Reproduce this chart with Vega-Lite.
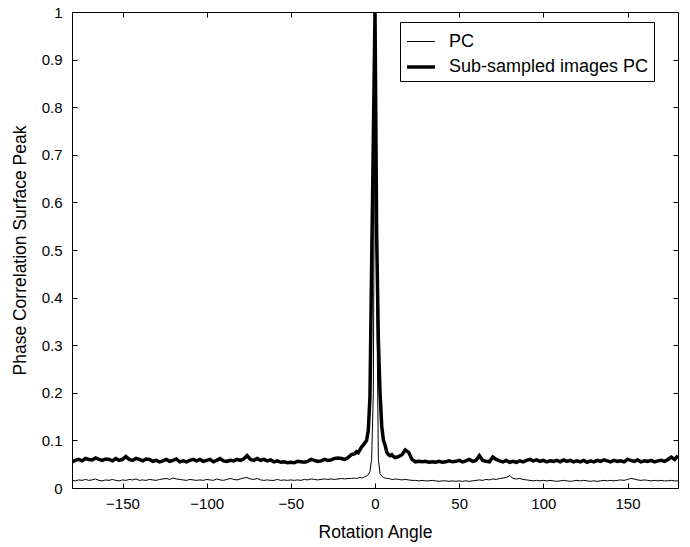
{
  "$schema": "https://vega.github.io/schema/vega-lite/v6.json",
  "width": 606,
  "height": 476,
  "autosize": {"type": "none"},
  "padding": {"left": 72, "top": 12, "right": 12, "bottom": 59},
  "background": "white",
  "config": {
    "view": {"stroke": "black", "strokeWidth": 1},
    "font": "Liberation Sans",
    "axis": {
      "labelFont": "Liberation Sans", "labelFontSize": 15, "labelColor": "black",
      "titleFont": "Liberation Sans", "titleFontSize": 17.5, "titleColor": "black", "titleFontWeight": "normal",
      "domain": false, "grid": false, "ticks": true, "tickColor": "black", "tickWidth": 1, "tickSize": 5, "offset": -5
    },
    "legend": {"labelFont": "Liberation Sans", "labelFontSize": 18, "labelColor": "black", "labelLimit": 400}
  },
  "data": {"values": [
    {"a":-180,"p":0.016,"s":0.055},{"a":-178,"p":0.015,"s":0.058},{"a":-176,"p":0.017,"s":0.060},{"a":-174,"p":0.016,"s":0.057},{"a":-172,"p":0.018,"s":0.062},{"a":-170,"p":0.016,"s":0.060},{"a":-168,"p":0.017,"s":0.059},{"a":-166,"p":0.019,"s":0.063},{"a":-164,"p":0.016,"s":0.060},{"a":-162,"p":0.015,"s":0.058},
    {"a":-160,"p":0.017,"s":0.061},{"a":-158,"p":0.016,"s":0.060},{"a":-156,"p":0.018,"s":0.057},{"a":-154,"p":0.016,"s":0.062},{"a":-152,"p":0.015,"s":0.058},{"a":-150,"p":0.017,"s":0.060},{"a":-148,"p":0.016,"s":0.066},{"a":-146,"p":0.018,"s":0.060},{"a":-144,"p":0.017,"s":0.058},{"a":-142,"p":0.019,"s":0.062},
    {"a":-140,"p":0.016,"s":0.060},{"a":-138,"p":0.017,"s":0.057},{"a":-136,"p":0.016,"s":0.061},{"a":-134,"p":0.018,"s":0.060},{"a":-132,"p":0.017,"s":0.056},{"a":-130,"p":0.016,"s":0.058},{"a":-128,"p":0.018,"s":0.055},{"a":-126,"p":0.019,"s":0.057},{"a":-124,"p":0.020,"s":0.060},{"a":-122,"p":0.018,"s":0.056},
    {"a":-120,"p":0.021,"s":0.058},{"a":-118,"p":0.019,"s":0.061},{"a":-116,"p":0.018,"s":0.055},{"a":-114,"p":0.017,"s":0.057},{"a":-112,"p":0.016,"s":0.055},{"a":-110,"p":0.018,"s":0.058},{"a":-108,"p":0.017,"s":0.060},{"a":-106,"p":0.016,"s":0.057},{"a":-104,"p":0.017,"s":0.060},{"a":-102,"p":0.016,"s":0.056},
    {"a":-100,"p":0.018,"s":0.058},{"a":-98,"p":0.017,"s":0.060},{"a":-96,"p":0.016,"s":0.055},{"a":-94,"p":0.019,"s":0.058},{"a":-92,"p":0.017,"s":0.062},{"a":-90,"p":0.016,"s":0.057},{"a":-88,"p":0.018,"s":0.056},{"a":-86,"p":0.020,"s":0.058},{"a":-84,"p":0.018,"s":0.057},{"a":-82,"p":0.017,"s":0.060},
    {"a":-80,"p":0.019,"s":0.058},{"a":-78,"p":0.021,"s":0.061},{"a":-76,"p":0.022,"s":0.068},{"a":-74,"p":0.019,"s":0.060},{"a":-72,"p":0.018,"s":0.058},{"a":-70,"p":0.020,"s":0.062},{"a":-68,"p":0.017,"s":0.058},{"a":-66,"p":0.016,"s":0.060},{"a":-64,"p":0.017,"s":0.057},{"a":-62,"p":0.016,"s":0.059},
    {"a":-60,"p":0.016,"s":0.055},{"a":-58,"p":0.018,"s":0.057},{"a":-56,"p":0.016,"s":0.054},{"a":-54,"p":0.017,"s":0.055},{"a":-52,"p":0.016,"s":0.053},{"a":-50,"p":0.017,"s":0.054},{"a":-48,"p":0.016,"s":0.053},{"a":-46,"p":0.017,"s":0.056},{"a":-44,"p":0.016,"s":0.055},{"a":-42,"p":0.018,"s":0.054},
    {"a":-40,"p":0.017,"s":0.056},{"a":-38,"p":0.019,"s":0.060},{"a":-36,"p":0.018,"s":0.058},{"a":-34,"p":0.017,"s":0.056},{"a":-32,"p":0.018,"s":0.057},{"a":-30,"p":0.019,"s":0.060},{"a":-28,"p":0.018,"s":0.058},{"a":-26,"p":0.019,"s":0.059},{"a":-24,"p":0.018,"s":0.062},{"a":-22,"p":0.019,"s":0.063},
    {"a":-20,"p":0.020,"s":0.062},{"a":-18,"p":0.019,"s":0.060},{"a":-16,"p":0.020,"s":0.064},{"a":-14,"p":0.020,"s":0.070},{"a":-12,"p":0.021,"s":0.072},{"a":-11,"p":0.020,"s":0.076},{"a":-10,"p":0.021,"s":0.074},{"a":-9,"p":0.022,"s":0.080},{"a":-8,"p":0.021,"s":0.086},{"a":-7,"p":0.022,"s":0.090},
    {"a":-6,"p":0.024,"s":0.095},{"a":-5,"p":0.025,"s":0.100},{"a":-4,"p":0.028,"s":0.120},{"a":-3,"p":0.035,"s":0.190},{"a":-2,"p":0.060,"s":0.470},{"a":-1,"p":0.200,"s":0.730},{"a":0,"p":1.0,"s":1.0},{"a":1,"p":0.420,"s":0.530},{"a":2,"p":0.060,"s":0.310},{"a":3,"p":0.030,"s":0.200},
    {"a":4,"p":0.025,"s":0.130},{"a":5,"p":0.022,"s":0.100},{"a":6,"p":0.021,"s":0.090},{"a":7,"p":0.020,"s":0.075},{"a":8,"p":0.020,"s":0.070},{"a":9,"p":0.019,"s":0.068},{"a":10,"p":0.018,"s":0.070},{"a":11,"p":0.018,"s":0.066},{"a":12,"p":0.019,"s":0.064},{"a":14,"p":0.018,"s":0.066},
    {"a":16,"p":0.017,"s":0.070},{"a":18,"p":0.018,"s":0.080},{"a":20,"p":0.017,"s":0.075},{"a":22,"p":0.016,"s":0.060},{"a":24,"p":0.016,"s":0.055},{"a":26,"p":0.015,"s":0.056},{"a":28,"p":0.016,"s":0.055},{"a":30,"p":0.015,"s":0.056},{"a":32,"p":0.015,"s":0.054},{"a":34,"p":0.016,"s":0.055},
    {"a":36,"p":0.015,"s":0.054},{"a":38,"p":0.014,"s":0.056},{"a":40,"p":0.015,"s":0.054},{"a":42,"p":0.015,"s":0.055},{"a":44,"p":0.014,"s":0.057},{"a":46,"p":0.015,"s":0.055},{"a":48,"p":0.014,"s":0.056},{"a":50,"p":0.015,"s":0.058},{"a":52,"p":0.014,"s":0.055},{"a":54,"p":0.015,"s":0.057},
    {"a":56,"p":0.014,"s":0.060},{"a":58,"p":0.015,"s":0.056},{"a":60,"p":0.016,"s":0.058},{"a":62,"p":0.017,"s":0.068},{"a":64,"p":0.016,"s":0.058},{"a":66,"p":0.018,"s":0.056},{"a":68,"p":0.017,"s":0.055},{"a":70,"p":0.019,"s":0.065},{"a":72,"p":0.018,"s":0.060},{"a":74,"p":0.020,"s":0.057},
    {"a":76,"p":0.021,"s":0.055},{"a":78,"p":0.022,"s":0.058},{"a":80,"p":0.026,"s":0.054},{"a":82,"p":0.020,"s":0.056},{"a":84,"p":0.019,"s":0.054},{"a":86,"p":0.020,"s":0.057},{"a":88,"p":0.018,"s":0.055},{"a":90,"p":0.017,"s":0.058},{"a":92,"p":0.016,"s":0.060},{"a":94,"p":0.015,"s":0.057},
    {"a":96,"p":0.016,"s":0.059},{"a":98,"p":0.015,"s":0.056},{"a":100,"p":0.016,"s":0.058},{"a":102,"p":0.015,"s":0.055},{"a":104,"p":0.016,"s":0.057},{"a":106,"p":0.015,"s":0.056},{"a":108,"p":0.014,"s":0.058},{"a":110,"p":0.015,"s":0.055},{"a":112,"p":0.016,"s":0.059},{"a":114,"p":0.015,"s":0.056},
    {"a":116,"p":0.014,"s":0.058},{"a":118,"p":0.015,"s":0.055},{"a":120,"p":0.016,"s":0.057},{"a":122,"p":0.015,"s":0.055},{"a":124,"p":0.016,"s":0.058},{"a":126,"p":0.015,"s":0.054},{"a":128,"p":0.014,"s":0.057},{"a":130,"p":0.015,"s":0.055},{"a":132,"p":0.014,"s":0.058},{"a":134,"p":0.015,"s":0.056},
    {"a":136,"p":0.016,"s":0.059},{"a":138,"p":0.015,"s":0.057},{"a":140,"p":0.016,"s":0.055},{"a":142,"p":0.015,"s":0.058},{"a":144,"p":0.016,"s":0.056},{"a":146,"p":0.017,"s":0.057},{"a":148,"p":0.016,"s":0.055},{"a":150,"p":0.018,"s":0.060},{"a":152,"p":0.020,"s":0.058},{"a":154,"p":0.019,"s":0.056},
    {"a":156,"p":0.017,"s":0.059},{"a":158,"p":0.016,"s":0.055},{"a":160,"p":0.017,"s":0.057},{"a":162,"p":0.016,"s":0.056},{"a":164,"p":0.015,"s":0.058},{"a":166,"p":0.016,"s":0.055},{"a":168,"p":0.015,"s":0.057},{"a":170,"p":0.016,"s":0.058},{"a":172,"p":0.015,"s":0.056},{"a":174,"p":0.015,"s":0.060},
    {"a":176,"p":0.016,"s":0.065},{"a":178,"p":0.015,"s":0.060},{"a":180,"p":0.015,"s":0.068}
  ]},
  "transform": [{"fold": ["p", "s"], "as": ["series", "v"]}],
  "layer": [
    {
      "mark": {"type": "line", "color": "black", "clip": true},
      "encoding": {
        "x": {"field": "a", "type": "quantitative", "scale": {"domain": [-180, 180], "nice": false},
              "axis": {"values": [-150, -100, -50, 0, 50, 100, 150], "title": "Rotation Angle", "labelPadding": 8, "titlePadding": 12}},
        "y": {"field": "v", "type": "quantitative", "scale": {"domain": [0, 1], "nice": false},
              "axis": {"values": [0, 0.1, 0.2, 0.3, 0.4, 0.5, 0.6, 0.7, 0.8, 0.9, 1], "format": "~g", "title": "Phase Correlation Surface Peak", "labelPadding": 10, "titlePadding": 12}},
        "strokeWidth": {"field": "series", "type": "nominal",
          "scale": {"domain": ["p", "s"], "range": [1, 3.5]},
          "legend": {"title": null, "orient": "none", "legendX": 328, "legendY": 10,
            "labelExpr": "datum.value == 'p' ? 'PC' : 'Sub-sampled images PC'",
            "strokeColor": "black", "fillColor": "white", "padding": 5,
            "symbolType": "stroke", "symbolSize": 784, "symbolStrokeColor": "black", "labelOffset": 12, "rowPadding": -6}}
      }
    },
    {
      "mark": {"type": "line", "opacity": 0},
      "encoding": {
        "x": {"field": "a", "type": "quantitative", "scale": {"domain": [-180, 180], "nice": false},
              "axis": {"orient": "top", "values": [-150, -100, -50, 0, 50, 100, 150], "labels": false, "title": null}},
        "y": {"field": "v", "type": "quantitative", "scale": {"domain": [0, 1], "nice": false},
              "axis": {"orient": "right", "values": [0, 0.1, 0.2, 0.3, 0.4, 0.5, 0.6, 0.7, 0.8, 0.9, 1], "labels": false, "title": null}}
      }
    }
  ],
  "resolve": {"axis": {"x": "independent", "y": "independent"}}
}
